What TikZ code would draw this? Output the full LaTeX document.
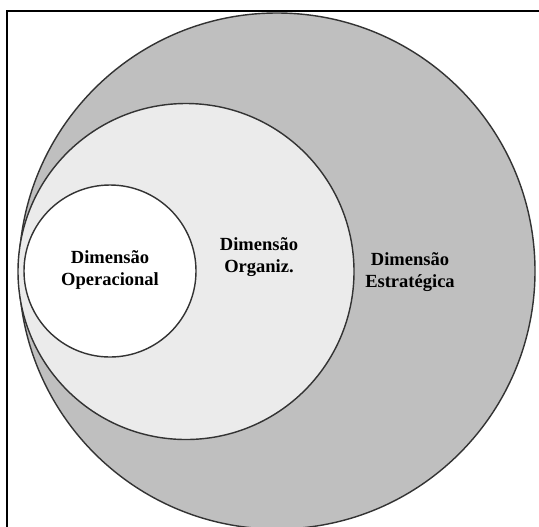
\documentclass[tikz,border=0pt]{standalone}
\usepackage{fontspec}
\setmainfont{Liberation Serif}
\definecolor{outergray}{gray}{0.75}
\definecolor{innergray}{gray}{0.92}
\definecolor{rimgray}{gray}{0.2}
\tikzset{
  ring/.style={draw=rimgray, line width=0.8pt},
  dimlabel/.style={align=center, font=\bfseries\fontsize{10.5}{12.2}\selectfont}
}
\begin{document}
\begin{tikzpicture}[x=0.567pt,y=-0.567pt]
\useasboundingbox (0,0) rectangle (539,526);
\draw[line width=0.6pt] (7,545) -- (7,11) -- (560,11);
\draw[ring, fill=outergray] (277,271) circle (258);
\draw[ring, fill=innergray] (186,271.5) circle (168);
\draw[ring, fill=white] (110,271) circle (86);
\node[dimlabel] (oper) at (110,270) {Dimensão\\Operacional};
\node[dimlabel] (org) at (259,257) {Dimensão\\Organiz.};
\node[dimlabel] (estr) at (410,272) {Dimensão\\Estratégica};
\end{tikzpicture}
\end{document}
